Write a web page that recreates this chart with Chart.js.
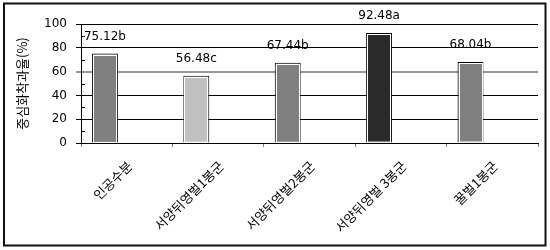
<!DOCTYPE html>
<html>
<head>
<meta charset="utf-8">
<script src="https://cdn.jsdelivr.net/npm/chart.js@4.4.0/dist/chart.umd.min.js"></script>
<style>
  html, body { margin: 0; padding: 0; background: #fff; }
</style>
</head>
<body>
<canvas id="myChart" width="550" height="250"></canvas>
<script>
// chart data
const categories = ['인공수분', '서양뒤영벌1봉군', '서양뒤영벌2봉군', '서양뒤영벌 3봉군', '꿀벌1봉군'];
const values = [75.12, 56.48, 67.44, 92.48, 68.04];
const valueLabels = ['75.12b', '56.48c', '67.44b', '92.48a', '68.04b'];
const barColors = ['#808080', '#c0c0c0', '#808080', '#2a2a2a', '#808080'];
const minorTicks = [10, 30, 50, 70, 90];
const yTitle = '중심화착과율(%)';

const numFont = 'DejaVu Sans, Noto Sans CJK KR, sans-serif';
const krFont = 'Noto Sans CJK KR, DejaVu Sans, sans-serif';

// outer frame round the whole picture, minor ticks on the y axis
const framePlugin = {
    id: 'frame',
    beforeDraw(chart) {
        const c = chart.ctx;
        c.save();
        c.fillStyle = '#fff';
        c.fillRect(0, 0, chart.width, chart.height);
        c.restore();
    },
    afterDraw(chart) {
        const c = chart.ctx;
        const y = chart.scales.y;
        c.save();
        c.strokeStyle = '#000';
        c.lineWidth = 1;
        minorTicks.forEach(v => {
            const py = Math.round(y.getPixelForValue(v)) + 0.5;
            c.beginPath();
            c.moveTo(y.right, py);
            c.lineTo(y.right + 4, py);
            c.stroke();
        });
        c.strokeStyle = '#111';
        c.lineWidth = 2;
        c.strokeRect(4, 3.5, 541.5, 242);
        c.restore();
    }
};

// white inner edge on bars + value labels above them
const barLabelPlugin = {
    id: 'barLabels',
    afterDatasetsDraw(chart) {
        const c = chart.ctx;
        const meta = chart.getDatasetMeta(0);
        c.save();
        meta.data.forEach((bar, i) => {
            const p = bar.getProps(['x', 'y', 'base', 'width'], true);
            const left = Math.round(p.x - p.width / 2);
            c.strokeStyle = '#fff';
            c.lineWidth = 1;
            c.strokeRect(left + 1.5, Math.round(p.y) + 1.5, Math.round(p.width) - 3, p.base - p.y - 2);
            c.fillStyle = '#000';
            c.font = '12px ' + numFont;
            c.textAlign = 'center';
            c.textBaseline = 'middle';
            c.fillText(valueLabels[i], p.x, p.y - 17);
        });
        c.restore();
    }
};

const ctx = document.getElementById('myChart').getContext('2d');
const chart = new Chart(ctx, {
    type: 'bar',
    data: {
        labels: categories,
        datasets: [{
            data: values,
            backgroundColor: barColors,
            borderColor: '#000',
            borderWidth: 1,
            barPercentage: 0.596,
            categoryPercentage: 0.954
        }, {
            // empty second slot, keeps the bars in the left part of each category like the original
            data: values.map(() => null),
            barPercentage: 0.596,
            categoryPercentage: 0.954
        }]
    },
    options: {
        responsive: false,
        animation: false,
        layout: { padding: { top: 24, right: 12, bottom: 0, left: 0 } },
        plugins: {
            legend: { display: false },
            tooltip: { enabled: false }
        },
        scales: {
            x: {
                grid: { offset: true, drawOnChartArea: false, tickLength: 4, color: '#808080' },
                border: { color: '#000' },
                ticks: {
                    minRotation: 45,
                    maxRotation: 45,
                    padding: 11,
                    labelOffset: 3,
                    color: '#000',
                    font: { family: krFont, size: 13 }
                },
                afterFit: s => { s.height = 107; }
            },
            y: {
                min: 0,
                max: 100,
                ticks: {
                    stepSize: 20,
                    padding: 9,
                    color: '#000',
                    font: { family: numFont, size: 12 }
                },
                grid: {
                    color: c => (c.tick && c.tick.value === 60) ? '#999' : '#000',
                    lineWidth: c => (c.tick && c.tick.value === 60) ? 2 : 1,
                    tickLength: 5
                },
                border: { color: '#000' },
                title: {
                    display: true,
                    text: yTitle,
                    color: '#000',
                    font: { family: krFont, size: 13 },
                    padding: { top: 14 }
                },
                afterFit: s => { s.width = 81; }
            }
        }
    },
    plugins: [framePlugin, barLabelPlugin]
});
</script>
</body>
</html>
